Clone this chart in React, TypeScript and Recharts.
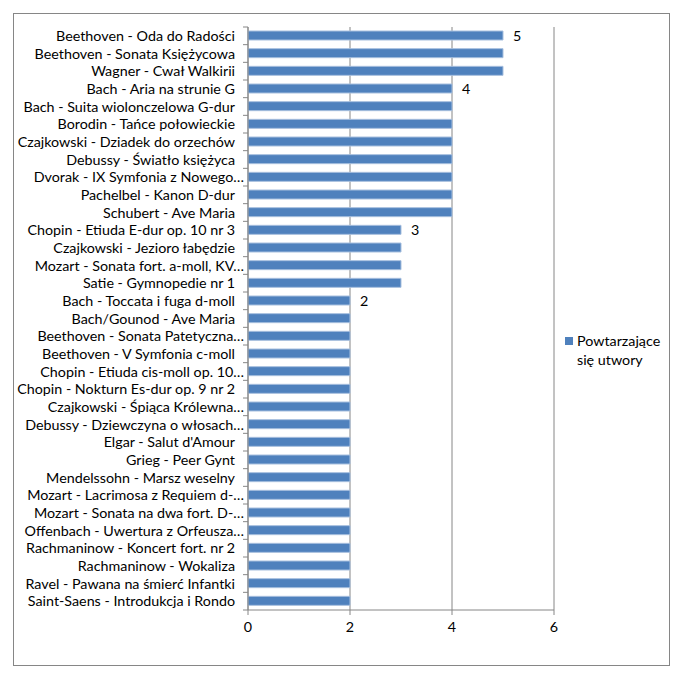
import { BarChart, Bar, XAxis, YAxis, CartesianGrid, LabelList } from 'recharts'

const pieces = [
  'Beethoven - Oda do Radości',
  'Beethoven - Sonata Księżycowa',
  'Wagner - Cwał Walkirii',
  'Bach - Aria na strunie G',
  'Bach - Suita wiolonczelowa G-dur',
  'Borodin - Tańce połowieckie',
  'Czajkowski - Dziadek do orzechów',
  'Debussy - Światło księżyca',
  'Dvorak - IX Symfonia z Nowego…',
  'Pachelbel - Kanon D-dur',
  'Schubert - Ave Maria',
  'Chopin - Etiuda E-dur op. 10 nr 3',
  'Czajkowski - Jezioro łabędzie',
  'Mozart - Sonata fort. a-moll, KV…',
  'Satie - Gymnopedie nr 1',
  'Bach - Toccata i fuga d-moll',
  'Bach/Gounod - Ave Maria',
  'Beethoven - Sonata Patetyczna…',
  'Beethoven - V Symfonia c-moll',
  'Chopin - Etiuda cis-moll op. 10…',
  'Chopin - Nokturn Es-dur op. 9 nr 2',
  'Czajkowski - Śpiąca Królewna…',
  'Debussy - Dziewczyna o włosach…',
  "Elgar - Salut d'Amour",
  'Grieg - Peer Gynt',
  'Mendelssohn - Marsz weselny',
  'Mozart - Lacrimosa z Requiem d-…',
  'Mozart - Sonata na dwa fort. D-…',
  'Offenbach - Uwertura z Orfeusza…',
  'Rachmaninow - Koncert fort. nr 2',
  'Rachmaninow - Wokaliza',
  'Ravel - Pawana na śmierć Infantki',
  'Saint-Saens - Introdukcja i Rondo',
]

const repeats = [5, 5, 5, 4, 4, 4, 4, 4, 4, 4, 4, 3, 3, 3, 3, 2, 2, 2, 2, 2, 2, 2, 2, 2, 2, 2, 2, 2, 2, 2, 2, 2, 2]

const xTicks = [0, 2, 4, 6]

const data = pieces.map((name, i) => ({
  name,
  value: repeats[i],
  label: i === 0 || repeats[i] !== repeats[i - 1] ? repeats[i] : null,
}))

const FONT = 'Lato, "Open Sans", sans-serif'
const FS = 14.3
const GRID = '#868686'
const TOP = 27
const BOTTOM = 35
const XH = 31
const H = 676
const band = (H - TOP - BOTTOM - XH) / pieces.length

function CatTick(props: any) {
  const { x, y, payload, index } = props
  const txt = String(payload.value)
  const trunc = txt.endsWith('…')
  return (
    <g>
      <line x1={x + 8} x2={x + 13} y1={y - band / 2} y2={y - band / 2} stroke={GRID} />
      {index === pieces.length - 1 && (
        <line x1={x + 8} x2={x + 13} y1={y + band / 2} y2={y + band / 2} stroke={GRID} />
      )}
      <text x={trunc ? x + 9 : x} y={y} dy="0.36em" textAnchor="end" fill="#000" fontSize={FS} fontFamily={FONT}>
        {txt}
      </text>
    </g>
  )
}

export default function App() {
  return (
    <div style={{ position: 'relative', width: 685, height: 676, margin: '-8px 0 0 -8px', background: '#fff' }}>
      <div
        style={{
          position: 'absolute',
          left: 13,
          top: 13,
          width: 657,
          height: 653,
          border: `1px solid ${GRID}`,
          boxSizing: 'border-box',
        }}
      />
      <BarChart
        width={685}
        height={676}
        data={data}
        layout="vertical"
        margin={{ top: TOP, right: 131, bottom: BOTTOM, left: 0 }}
        barSize={9}
        style={{ position: 'absolute', left: 0, top: 0 }}
      >
        <CartesianGrid horizontal={false} stroke={GRID} />
        <XAxis
          type="number"
          domain={[0, 6]}
          ticks={xTicks}
          height={XH}
          stroke={GRID}
          tickSize={5}
          tickMargin={7}
          tick={{ fill: '#000', fontSize: FS, fontFamily: FONT }}
          interval={0}
        />
        <YAxis
          type="category"
          dataKey="name"
          width={248}
          stroke={GRID}
          tickLine={false}
          tickSize={5}
          tickMargin={8}
          interval={0}
          tick={<CatTick />}
        />
        <Bar dataKey="value" fill="#4F81BD" stroke="#A7BFDE" strokeWidth={1} isAnimationActive={false}>
          <LabelList dataKey="label" position="right" offset={10} fill="#000" fontSize={FS} fontFamily={FONT} />
        </Bar>
      </BarChart>
      <div
        style={{
          position: 'absolute',
          left: 565,
          top: 331,
          fontFamily: FONT,
          fontSize: FS,
          color: '#000',
          lineHeight: '19px',
          display: 'flex',
        }}
      >
        <div style={{ width: 8, height: 8, background: '#4F81BD', marginTop: 6, marginRight: 4 }} />
        <div>
          Powtarzające
          <br />
          się utwory
        </div>
      </div>
    </div>
  )
}
